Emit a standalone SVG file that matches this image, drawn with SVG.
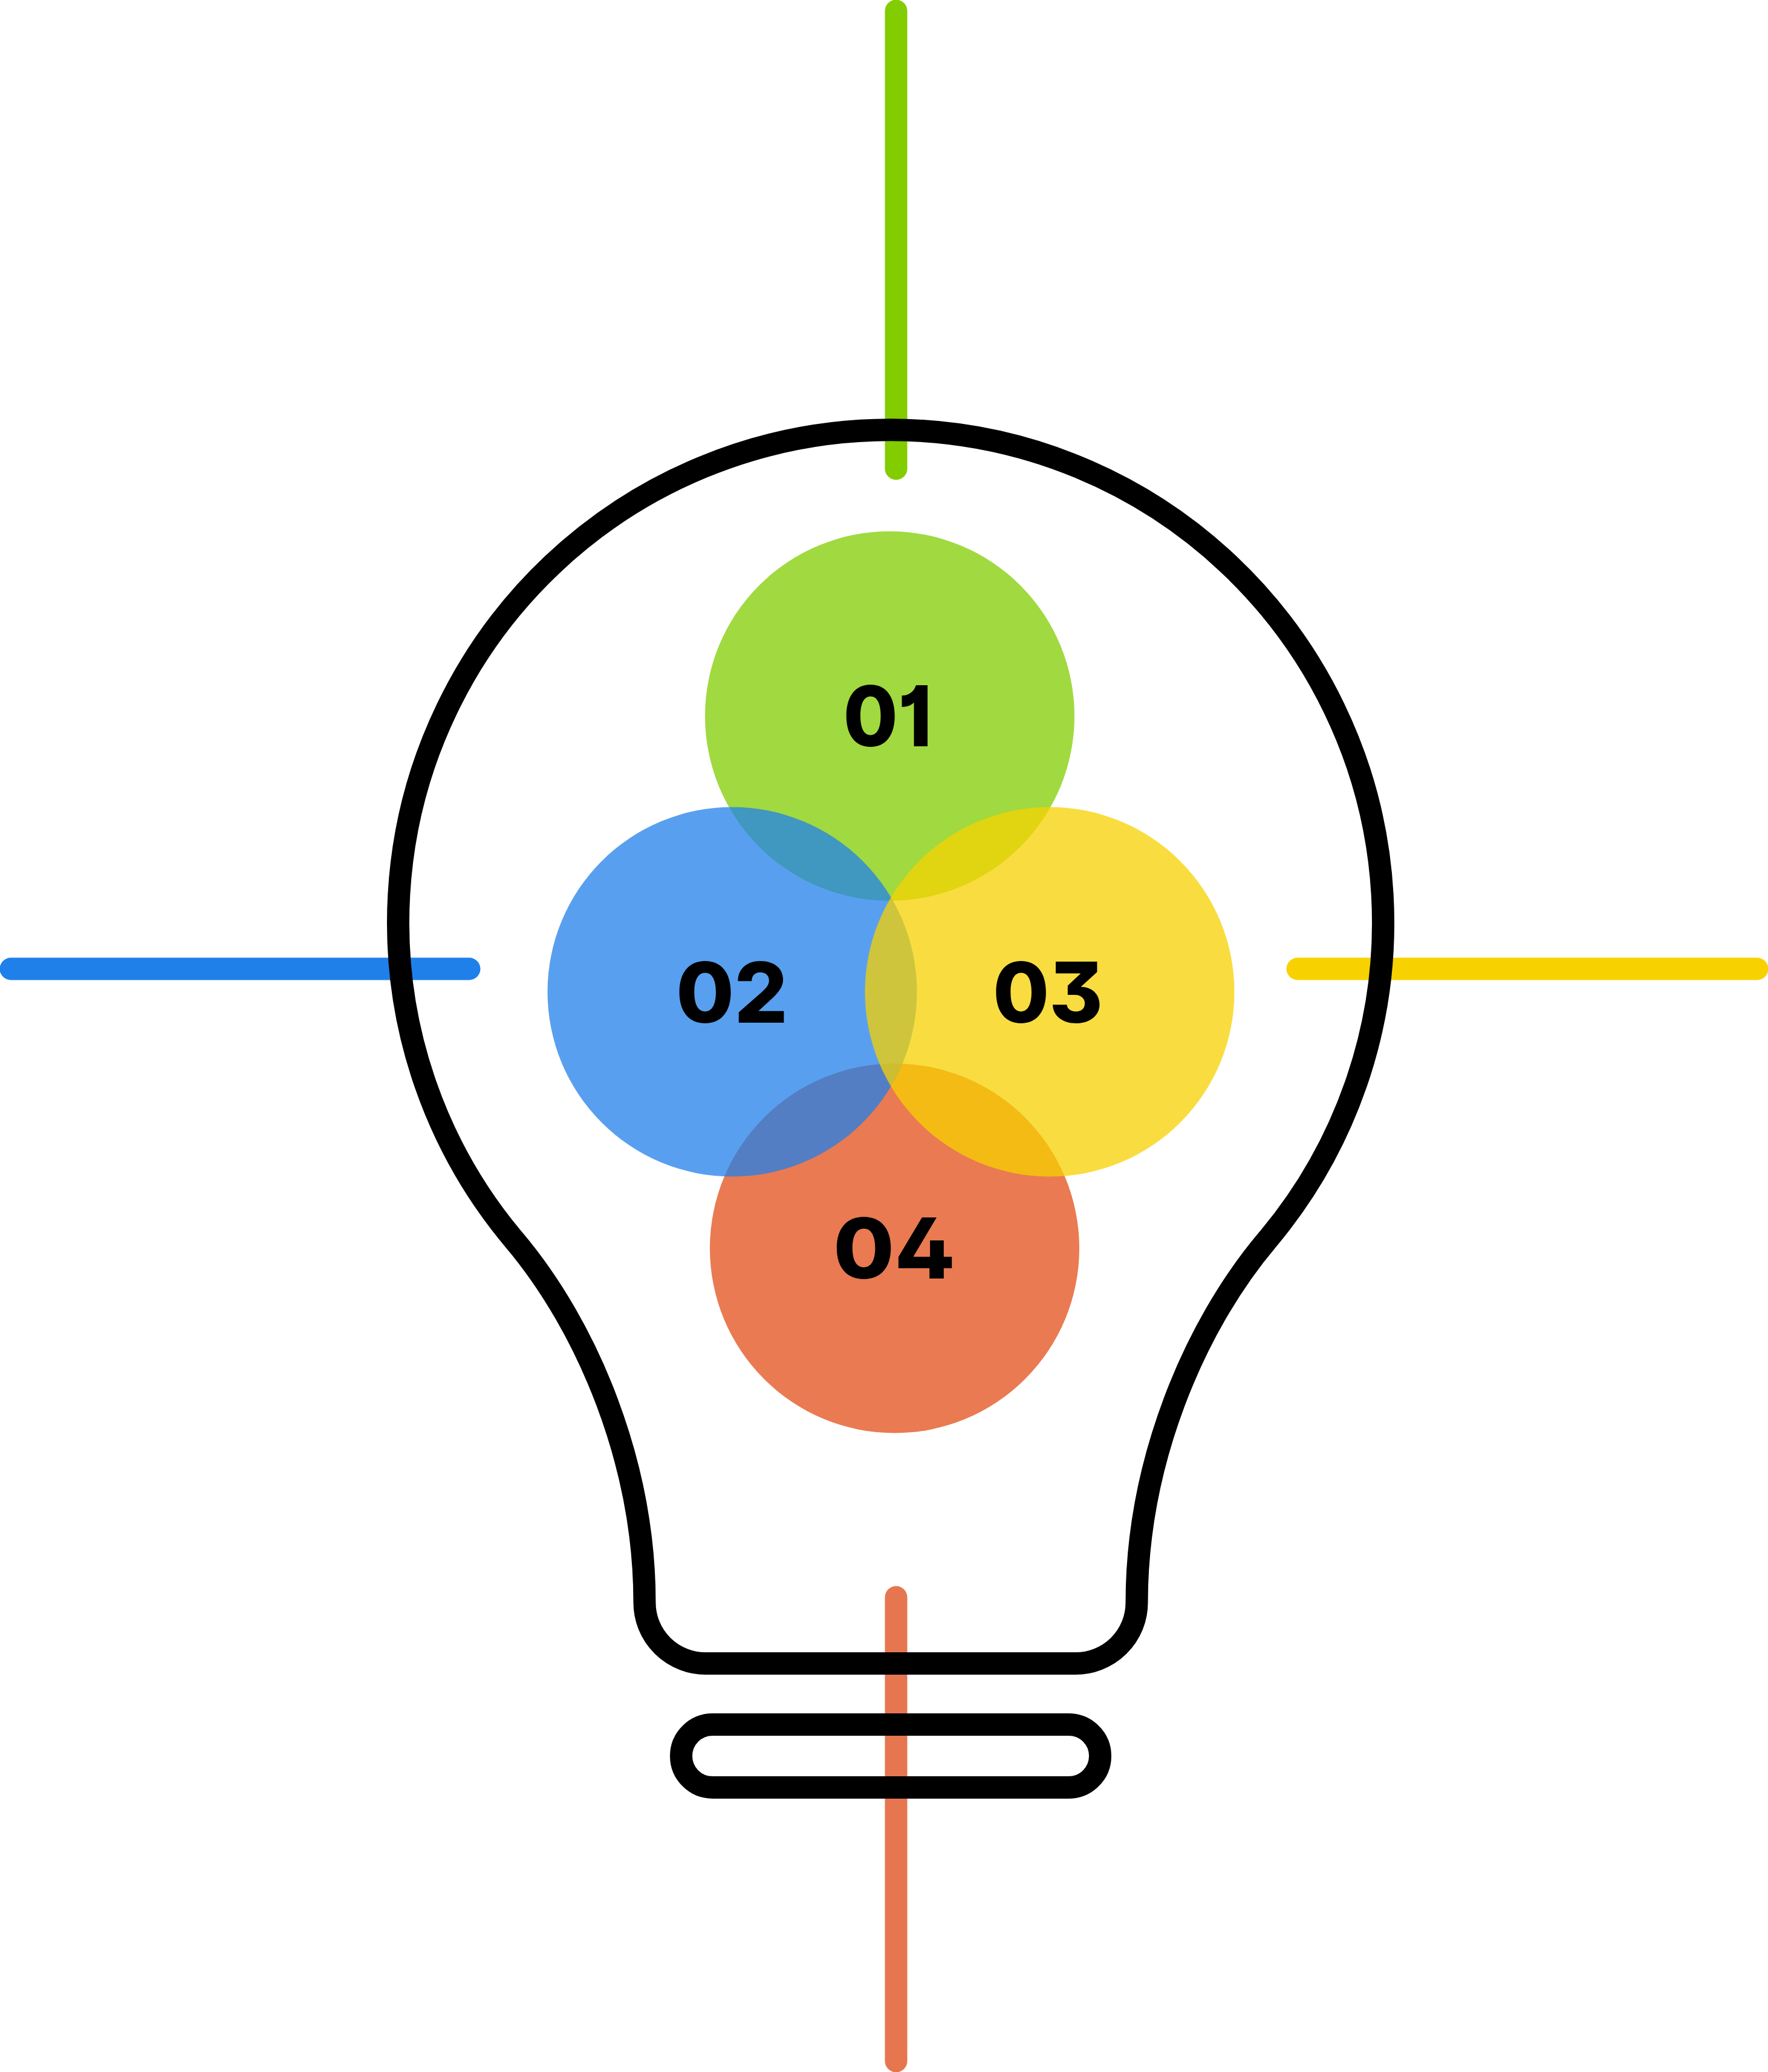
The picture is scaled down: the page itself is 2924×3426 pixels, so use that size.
<svg xmlns="http://www.w3.org/2000/svg" width="2924" height="3426" viewBox="0 0 2924 3426">
<style>
.ln{fill:none;stroke-width:37;stroke-linecap:round}
.bulb{fill:none;stroke:#000;stroke-width:37}
.c{fill-opacity:.75}
.t{font-family:"Inter","Liberation Sans",sans-serif;font-weight:800;font-size:139px;fill:#000;font-feature-settings:"cv01","cv02","cv09"}
</style>
<rect width="2924" height="3426" fill="#fff"/>
<g id="connectors">
<line class="ln" x1="1482" y1="18" x2="1482" y2="775" stroke="#82cc00"/>
<line class="ln" x1="18" y1="1602" x2="776" y2="1602" stroke="#2080ea"/>
<line class="ln" x1="2146" y1="1602" x2="2906" y2="1602" stroke="#f7d200"/>
<line class="ln" x1="1482" y1="2641" x2="1482" y2="3408" stroke="#e5764f"/>
</g>
<g id="bulb">
<path class="bulb" d="M1066 2650C1066 2420 972.500 2195 850 2050A814.500 814.500 0 1 1 2096 2050C1973.500 2195 1880 2420 1880 2650A101 100.500 0 0 1 1778 2750.500H1168A101 100.500 0 0 1 1066 2650Z"/>
<rect class="bulb" x="1126.500" y="2851.500" width="693" height="104" rx="52" ry="52"/>
</g>
<g id="node-04"><circle cx="1479.500" cy="2064" r="305.500" fill="#ea7a52"/></g>
<g id="node-01"><circle class="c" cx="1471.500" cy="1184" r="305.500" fill="#82cc00"/></g>
<g id="node-02"><circle class="c" cx="1211" cy="1640" r="305.500" fill="#2080ea"/></g>
<g id="node-03"><circle class="c" cx="1736" cy="1640" r="305.500" fill="#f7d200"/></g>
<g id="labels">
<text class="t" x="1394.500" y="1234" textLength="147" lengthAdjust="spacingAndGlyphs">01</text>
<text class="t" x="1118" y="1691" textLength="185" lengthAdjust="spacingAndGlyphs">02</text>
<text class="t" x="1642" y="1691" textLength="182" lengthAdjust="spacingAndGlyphs">03</text>
<text class="t" x="1378" y="2114" textLength="202" lengthAdjust="spacingAndGlyphs">04</text>
</g>
</svg>
